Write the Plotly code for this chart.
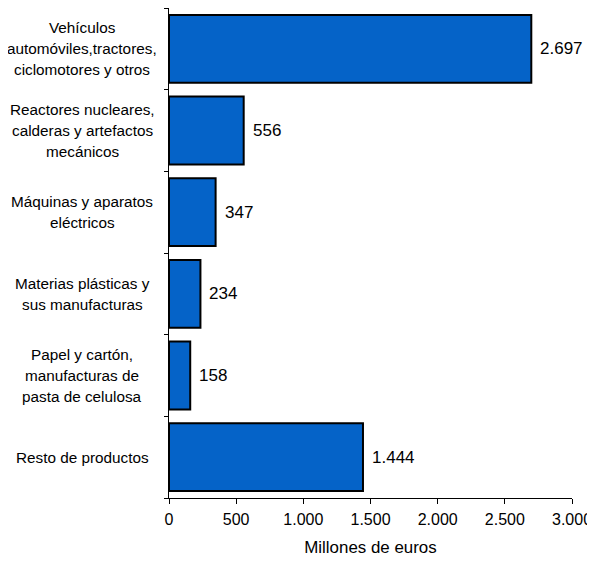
import plotly.graph_objects as go

categories = [
    "Vehículos<br>automóviles,tractores,<br>ciclomotores y otros",
    "Reactores nucleares,<br>calderas y artefactos<br>mecánicos",
    "Máquinas y aparatos<br>eléctricos",
    "Materias plásticas y<br>sus manufacturas",
    "Papel y cartón,<br>manufacturas de<br>pasta de celulosa",
    "Resto de productos",
]
values = [2697, 556, 347, 234, 158, 1444]
x_tickvals = [0, 500, 1000, 1500, 2000, 2500, 3000]
x_title = "Millones de euros"

FONT = "Liberation Sans, Arial, sans-serif"
BAR_COLOR = "#0563C8"

fig = go.Figure()
fig.add_trace(go.Bar(
    x=values,
    y=list(range(len(categories))),
    orientation="h",
    width=0.83,
    marker=dict(color=BAR_COLOR, line=dict(color="black", width=2)),
    hoverinfo="skip",
))

line_gap = 21
annotations = []
for i, cat in enumerate(categories):
    lines = cat.split("<br>")
    n = len(lines)
    for j, ln in enumerate(lines):
        annotations.append(dict(
            x=0, xref="paper", xanchor="center", xshift=-87,
            y=i, yref="y", yanchor="middle",
            yshift=((n - 1) / 2 - j) * line_gap,
            text=ln, showarrow=False,
            font=dict(family=FONT, size=15.3, color="black"),
        ))
for i, v in enumerate(values):
    annotations.append(dict(
        x=v, xref="x", xanchor="left", xshift=7,
        y=i, yref="y", yanchor="middle",
        text=f"{v:,}".replace(",", "."), showarrow=False,
        font=dict(family=FONT, size=17, color="black"),
    ))

fig.update_layout(
    width=587, height=553,
    margin=dict(l=161, r=23, t=0, b=63),
    paper_bgcolor="white", plot_bgcolor="white",
    showlegend=False,
    separators=",.",
    annotations=annotations,
    xaxis=dict(
        range=[0, 3000],
        tickvals=x_tickvals,
        tickformat=",d",
        automargin=False,
        showline=True, linecolor="black", linewidth=1,
        ticks="outside", ticklen=5, tickcolor="black",
        ticklabelstandoff=2,
        showgrid=False, zeroline=False,
        tickfont=dict(family=FONT, size=16, color="black"),
        title=dict(text=x_title, font=dict(family=FONT, size=16.9, color="black"), standoff=13),
    ),
    yaxis=dict(
        type="linear",
        automargin=False,
        range=[len(categories) - 0.5, -0.5],
        tickvals=[k - 0.5 for k in range(len(categories) + 1)],
        showticklabels=False,
        showline=True, linecolor="black", linewidth=1,
        ticks="outside", ticklen=4, tickcolor="black",
        showgrid=False, zeroline=False,
    ),
)

fig.write_html("out.html")
